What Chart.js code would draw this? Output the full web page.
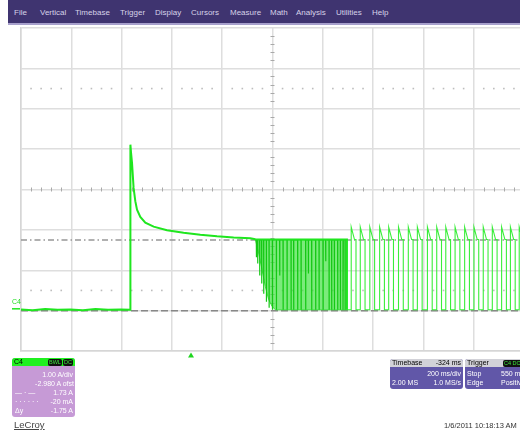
<!DOCTYPE html>
<html>
<head>
<meta charset="utf-8">
<script src="https://cdn.jsdelivr.net/npm/chart.js@4.4.1/dist/chart.umd.min.js"></script>
<style>
  html, body { margin: 0; padding: 0; background: #fff; width: 520px; height: 432px; overflow: hidden;
    font-family: "Liberation Sans", Arial, sans-serif; }
  #scope { position: relative; width: 520px; height: 432px; overflow: hidden; }
  #menu { position: absolute; left: 8px; top: 0; width: 520px; height: 23px; background: #3f3470;
    border-bottom: 2px solid #a7a0cc; }
  #menu span { position: absolute; top: 8px; font-size: 8px; color: #d6d2e8; white-space: nowrap; }
  canvas { position: absolute; left: 0; top: 0; }
  .box { position: absolute; border-radius: 3px; overflow: hidden; font-size: 7px; line-height: 8px; color: #fff; }
  .box span { position: absolute; white-space: nowrap; }
  .hdr { position: absolute; left: 0; top: 0; right: 0; height: 8px; }
  .badge { background: #111; color: #3ce23c; border-radius: 2px; font-size: 5.5px; line-height: 7px; padding: 0 1px; }
  #ch4tag { position: absolute; left: 12px; top: 298px; font-size: 7px; color: #22dd22; }
  #brand { position: absolute; left: 14px; top: 419px; font-size: 9.5px; color: #444; text-decoration: underline; }
  #stamp { position: absolute; left: 444px; top: 421px; font-size: 7.5px; color: #333; white-space: nowrap; }
</style>
</head>
<body>
<div id="scope">
  <div id="menu">
    <span style="left:6px">File</span>
    <span style="left:32px">Vertical</span>
    <span style="left:67px">Timebase</span>
    <span style="left:112px">Trigger</span>
    <span style="left:147px">Display</span>
    <span style="left:183px">Cursors</span>
    <span style="left:222px">Measure</span>
    <span style="left:262px">Math</span>
    <span style="left:288px">Analysis</span>
    <span style="left:328px">Utilities</span>
    <span style="left:364px">Help</span>
  </div>

  <canvas id="c" width="530" height="432"></canvas>

  <div id="ch4tag">C4</div>

  <!-- channel 4 descriptor -->
  <div class="box" style="left:12px;top:358px;width:63px;height:59px;background:#c69ad6;">
    <div class="hdr" style="background:#1ff01f;">
      <span style="left:2px;top:0;color:#000;">C4</span>
      <span class="badge" style="left:36px;top:0.5px;">BWL</span>
      <span class="badge" style="left:51px;top:0.5px;">DC</span>
    </div>
    <span style="right:2px;top:13px;">1.00 A/div</span>
    <span style="right:1px;top:22px;">-2.980 A ofst</span>
    <span style="left:3px;top:31px;">— · —</span>
    <span style="right:2px;top:31px;">1.73 A</span>
    <span style="left:3px;top:40px;">· · · · · ·</span>
    <span style="right:2px;top:40px;">-20 mA</span>
    <span style="left:3px;top:49px;">Δy</span>
    <span style="right:2px;top:49px;">-1.75 A</span>
  </div>

  <!-- timebase descriptor -->
  <div class="box" style="left:390px;top:359px;width:73px;height:30px;background:#6157a8;">
    <div class="hdr" style="background:#d2d2d8;">
      <span style="left:2px;top:0;color:#000;">Timebase</span>
      <span style="right:2px;top:0;color:#000;">-324 ms</span>
    </div>
    <span style="right:2px;top:11px;">200 ms/div</span>
    <span style="left:2px;top:20px;">2.00 MS</span>
    <span style="right:2px;top:20px;">1.0 MS/s</span>
  </div>

  <!-- trigger descriptor -->
  <div class="box" style="left:465px;top:359px;width:70px;height:30px;background:#6157a8;">
    <div class="hdr" style="background:#d2d2d8;">
      <span style="left:2px;top:0;color:#000;">Trigger</span>
      <span class="badge" style="left:38px;top:0.5px;">C4 DC</span>
    </div>
    <span style="left:2px;top:11px;">Stop</span>
    <span style="left:36px;top:11px;">550 mA</span>
    <span style="left:2px;top:20px;">Edge</span>
    <span style="left:36px;top:20px;">Positive</span>
  </div>

  <div id="brand">LeCroy</div>
  <div id="stamp">1/6/2011 10:18:13 AM</div>
</div>

<script>
// Graticule: 10 horizontal divisions of 200 ms, 8 vertical divisions of 1 A
const xDivisions = [-676, -476, -276, -76, 124, 324, 524, 724, 924, 1124, 1324];   // ms
const yDivisions = [-1.02, -0.02, 0.98, 1.98, 2.98, 3.98, 4.98, 5.98, 6.98];        // A
const centreTime = 324;
const centreAmps = 2.98;
const dottedRows = [5.48, 0.48];

// Cursor levels
const cursorHigh = 1.73;
const cursorLow = -0.02;

// Inrush: baseline, step, decay to the holding level
const traceTime = [-676, -630, -580, -530, -480, -430, -380, -330, -280, -242,
                   -241, -238.6, -234.6, -228.3, -221.5, -214.7, -201.6, -181.7, -148.7,
                   -95.4, -29.4, 37.0, 103.4, 169.4, 235.8, 256, 400, 520, 620, 620];
const traceAmps = [0.01, -0.01, 0.02, 0.0, 0.01, -0.01, 0.02, 0.0, 0.01, 0.0,
                   4.09, 3.9, 3.64, 3.02, 2.69, 2.48, 2.30, 2.16, 2.06,
                   1.97, 1.91, 1.86, 1.82, 1.79, 1.77, 1.75, 1.74, 1.74, 1.74, 0.0];

// Fast switching burst: lower edge of the shaded band (upper edge is the holding level)
const burstTime  = [256, 268.8, 282.3, 295.4, 308.5, 322, 335.2, 620];
const burstFloor = [1.74, 1.41, 1.0, 0.58, 0.26, 0.09, 0.0, 0.0];
const holdLevel = 1.74;

// Individual switching dips inside the burst
const dipTime  = [259.6, 264.8, 272.8, 280.7, 288.7, 299.4, 310.1, 323.3, 339.2, 352.3,
                  365.8, 381.7, 397.6, 407.9, 423.8, 437.4, 455.6, 466.4, 479.5, 495.4,
                  508.9, 524.8, 535.2, 548.7, 559.0, 569.8, 582.9, 593.6, 604.3, 612.3];
const dipDepth = [1.3, 1.15, 0.85, 0.65, 0.4, 0.2, 0.05, 0.0, 0.0, 0.85,
                  0.0, 0.0, 0.0, 0.0, 0.0, 0.0, 0.0, 0.9, 0.0, 0.0,
                  0.0, 0.0, 1.2, 0.0, 0.0, 0.0, 0.0, 0.0, 0.0, 0.0];

// Slow pulse train after the burst
const pulseRise = [637, 673, 711, 750, 786, 825, 864, 900, 940, 977,
                   1013, 1050, 1088, 1125, 1162, 1198, 1235, 1270, 1305];
const pulseKnee = [650, 686, 724, 763, 799, 838, 877, 913, 953, 990,
                   1026, 1063, 1101, 1138, 1175, 1211, 1248, 1283, 1318];
const pulseFall = [656, 692, 730, 769, 805, 844, 883, 919, 959, 996,
                   1032, 1069, 1107, 1144, 1181, 1217, 1254, 1289, 1324];
const pulsePeak = 2.05;

const toPoints = (xs, ys) => xs.map((t, i) => ({ x: t, y: ys[i] }));

const dipPoints = [];
dipTime.forEach((t, i) => {
  dipPoints.push({ x: t, y: holdLevel }, { x: t, y: dipDepth[i] }, { x: t + 1.2, y: holdLevel });
});

const pulsePoints = [{ x: 620, y: 0 }];
pulseRise.forEach((t, i) => {
  pulsePoints.push({ x: t, y: 0 }, { x: t, y: pulsePeak }, { x: pulseKnee[i], y: holdLevel },
                   { x: pulseFall[i], y: holdLevel }, { x: pulseFall[i], y: 0 });
});

const GREEN = '#1fe61f';

const scopeGraticule = {
  id: 'scopeGraticule',
  beforeDatasetsDraw(chart) {
    const { ctx, scales: { x, y } } = chart;
    const cx = x.getPixelForValue(centreTime);
    const cy = y.getPixelForValue(centreAmps);
    ctx.save();
    ctx.strokeStyle = '#a9a9a9';
    ctx.lineWidth = 1;
    ctx.beginPath();
    for (let i = 0; i < yDivisions.length - 1; i++) {
      for (let k = 1; k < 5; k++) {
        const py = Math.round(y.getPixelForValue(yDivisions[i] + k * 0.2)) + 0.5;
        ctx.moveTo(cx - 2, py); ctx.lineTo(cx + 2, py);
      }
    }
    for (let i = 0; i < xDivisions.length - 1; i++) {
      for (let k = 1; k < 5; k++) {
        const px = Math.round(x.getPixelForValue(xDivisions[i] + k * 40)) + 0.5;
        ctx.moveTo(px, cy - 2); ctx.lineTo(px, cy + 2);
      }
    }
    ctx.stroke();
    ctx.fillStyle = '#bdbdbd';
    dottedRows.forEach(v => {
      const py = y.getPixelForValue(v);
      for (let i = 0; i < xDivisions.length - 1; i++) {
        for (let k = 1; k < 5; k++) {
          const px = x.getPixelForValue(xDivisions[i] + k * 40);
          ctx.fillRect(px - 0.8, py - 0.8, 1.6, 1.6);
        }
      }
    });
    ctx.restore();
  },
  afterDraw(chart) {
    const { ctx, scales: { x, y } } = chart;
    ctx.save();
    const tx = x.getPixelForValue(0);
    ctx.fillStyle = '#1fd61f';
    ctx.beginPath();
    ctx.moveTo(tx, 352.5); ctx.lineTo(tx + 3, 357.5); ctx.lineTo(tx - 3, 357.5);
    ctx.closePath(); ctx.fill();
    const gy = y.getPixelForValue(0);
    ctx.strokeStyle = '#1fe61f';
    ctx.lineWidth = 1.5;
    ctx.beginPath(); ctx.moveTo(12, gy - 1); ctx.lineTo(20, gy - 1); ctx.stroke();
    ctx.restore();
  }
};

const fixTicks = values => scale => { scale.ticks = values.map(v => ({ value: v })); };

new Chart(document.getElementById('c'), {
  type: 'line',
  data: {
    datasets: [
      { data: toPoints(traceTime, traceAmps), borderColor: GREEN, borderWidth: 2, order: 1 },
      { data: pulsePoints, borderColor: '#3aee3a', borderWidth: 1.1, order: 2 },
      { data: dipPoints, borderColor: '#14c814', borderWidth: 1.2, order: 3 },
      { data: toPoints(burstTime, burstFloor), borderColor: 'rgba(50,220,50,0.9)', borderWidth: 1, order: 5,
        fill: { value: holdLevel }, backgroundColor: 'rgba(60,226,60,0.68)' },
      { data: [{ x: -676, y: cursorHigh }, { x: 1324, y: cursorHigh }], borderColor: '#969696',
        borderWidth: 1.5, borderDash: [6, 3, 1.5, 3], order: 10 },
      { data: [{ x: -676, y: cursorLow }, { x: 1324, y: cursorLow }], borderColor: '#888888',
        borderWidth: 1.5, borderDash: [7, 3], order: 11 }
    ]
  },
  options: {
    responsive: false,
    animation: false,
    devicePixelRatio: 1,
    layout: { padding: { left: 21, top: 28, right: 6, bottom: 81 } },
    elements: { point: { radius: 0, hoverRadius: 0 }, line: { tension: 0 } },
    plugins: { legend: { display: false }, tooltip: { enabled: false } },
    events: [],
    scales: {
      x: {
        type: 'linear', min: -676, max: 1324,
        afterBuildTicks: fixTicks(xDivisions),
        ticks: { display: false },
        grid: { color: '#dedede', lineWidth: 1.5, drawTicks: false },
        border: { display: true, color: '#d6d6d6', width: 1.5 }
      },
      y: {
        type: 'linear', min: -1.02, max: 6.98,
        afterBuildTicks: fixTicks(yDivisions),
        ticks: { display: false },
        grid: { color: '#dedede', lineWidth: 1.5, drawTicks: false },
        border: { display: true, color: '#d6d6d6', width: 1.5 }
      }
    }
  },
  plugins: [scopeGraticule]
});
</script>
</body>
</html>
